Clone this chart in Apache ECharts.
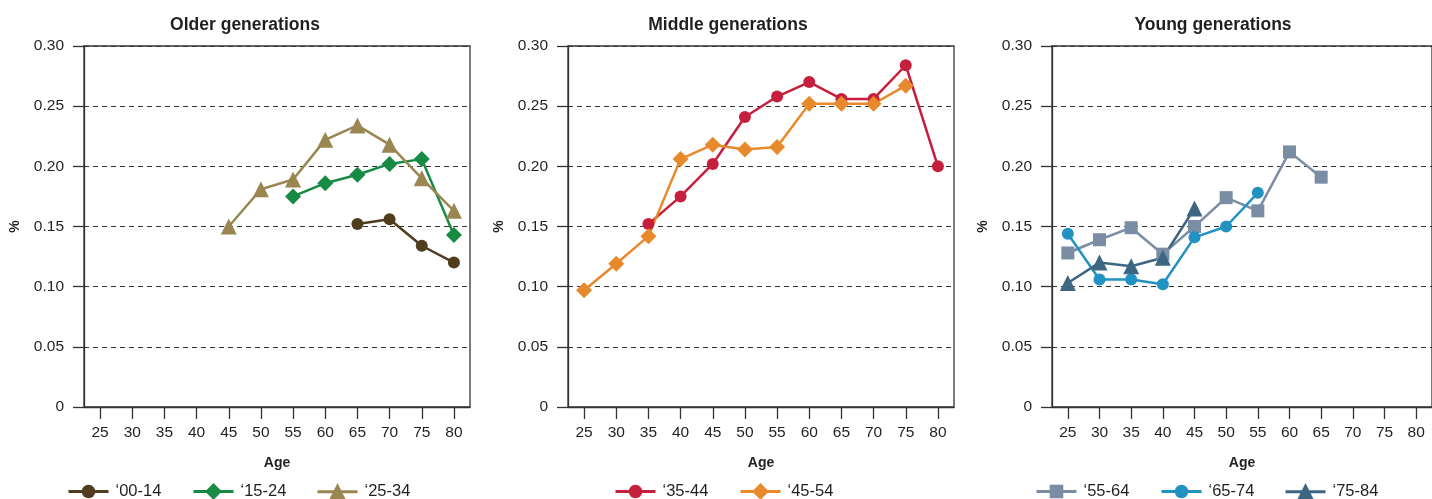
<!DOCTYPE html>
<html>
<head>
<meta charset="utf-8">
<script src="https://cdn.jsdelivr.net/npm/echarts@6/dist/echarts.min.js"></script>
<style>
html,body{margin:0;padding:0;background:#fff;}
#chart{width:1432px;height:499px;}
</style>
</head>
<body>
<div id="chart"></div>
<script>
const ages = ['25','30','35','40','45','50','55','60','65','70','75','80'];
const yTicks = [0, 0.05, 0.10, 0.15, 0.20, 0.25, 0.30];
const panelTitles = ['Older generations', 'Middle generations', 'Young generations'];

// Older generations
const g0014 = [null,null,null,null,null,null,null,null,0.152,0.156,0.134,0.120];
const g1524 = [null,null,null,null,null,null,0.175,0.186,0.193,0.202,0.206,0.143];
const g2534 = [null,null,null,null,0.150,0.181,0.189,0.222,0.234,0.218,0.190,0.163];
// Middle generations
const g3544 = [null,null,0.152,0.175,0.202,0.241,0.258,0.270,0.256,0.256,0.284,0.200];
const g4554 = [0.097,0.119,0.142,0.206,0.218,0.214,0.216,0.252,0.252,0.252,0.267,null];
// Young generations
const g5564 = [0.128,0.139,0.149,0.127,0.150,0.174,0.163,0.212,0.191,null,null,null];
const g6574 = [0.144,0.106,0.106,0.102,0.141,0.150,0.178,null,null,null,null,null];
const g7584 = [0.103,0.120,0.117,0.124,0.165,null,null,null,null,null,null,null];

const FONT = 'Liberation Sans';
const TXT = '#231f20';

const grids = [
  {left:84, top:46, width:386, height:361},
  {left:568, top:46, width:386, height:361},
  {left:1052, top:46, width:386, height:361}
];
const titleCenters = [240, 723, 1208];

const xAxes = grids.map((g,i)=>({
  type:'category', gridIndex:i, data:ages, boundaryGap:true,
  name:'Age', nameLocation:'middle', nameGap:49,
  nameTextStyle:{fontFamily:FONT, fontWeight:'bold', fontSize:14, color:TXT},
  axisLine:{show:true, lineStyle:{color:'#333', width:1.3}},
  axisTick:{show:true, alignWithLabel:true, length:12, lineStyle:{color:'#333', width:1.3}},
  axisLabel:{fontFamily:FONT, fontSize:15.5, color:TXT, margin:18, interval:0},
  splitLine:{show:false}
}));
const yAxes = grids.map((g,i)=>({
  type:'value', gridIndex:i, min:0, max:0.30, interval:0.05,
  name:'%', nameLocation:'middle', nameGap:62, nameRotate:90,
  nameTextStyle:{fontFamily:FONT, fontWeight:'bold', fontSize:14, color:TXT},
  axisLine:{show:true, lineStyle:{color:'#333', width:1.3}},
  axisTick:{show:true, length:11, lineStyle:{color:'#333', width:1.3}},
  axisLabel:{fontFamily:FONT, fontSize:15.5, color:TXT, margin:20,
    formatter:v=>{ const t = yTicks.find(x=>Math.abs(x-v)<1e-9); return t===0 ? '0' : (t!==undefined ? t.toFixed(2) : ''); }},
  splitLine:{show:true, lineStyle:{type:[5,4], color:'#333', width:1}}
}));

function mk(name, data, idx, color, symbol, size){
  return {
    name, type:'line', xAxisIndex:idx, yAxisIndex:idx, data,
    symbol, symbolSize:size,
    lineStyle:{color, width:2.5},
    itemStyle:{color},
    emphasis:{disabled:true},
    animation:false
  };
}
const series = [
  mk('\u201800-14', g0014, 0, '#4f3d1e', 'circle', 12),
  mk('\u201815-24', g1524, 0, '#178a44', 'diamond', 16),
  mk('\u201825-34', g2534, 0, '#9a8650', 'triangle', 16),
  mk('\u201835-44', g3544, 1, '#c61f3e', 'circle', 12),
  mk('\u201845-54', g4554, 1, '#e8892b', 'diamond', 16),
  mk('\u201855-64', g5564, 2, '#7a8da4', 'rect', 13),
  mk('\u201865-74', g6574, 2, '#2192c2', 'circle', 12),
  mk('\u201875-84', g7584, 2, '#3c6681', 'triangle', 16)
];

// legend layout: one legend component per entry
const legendLeft = [67, 192, 316, 614, 739, 1035, 1160, 1284];
const legendIconH = {circle:17, diamond:21, triangle:22, rect:17};
const legends = series.map((s,i)=>{
  const h = legendIconH[s.symbol];
  return {
    left:legendLeft[i], top:483, padding:0,
    itemWidth:40, itemHeight:h,
    lineStyle:{width:3},
    textStyle:{fontFamily:FONT, fontSize:16.5, color:TXT, padding:[0,0,0,2]},
    selectedMode:false,
    data:[s.name]
  };
});

const titles = panelTitles.map((t,i)=>({
  text:t, left:titleCenters[i], top:11, textAlign:'center',
  textStyle:{fontFamily:FONT, fontWeight:'bold', fontSize:17.5, color:TXT}
}));

const chart = echarts.init(document.getElementById('chart'), null, {renderer:'canvas'});
chart.setOption({
  backgroundColor:'#fff',
  animation:false,
  title:titles,
  grid:grids.map(g=>Object.assign({show:true, borderColor:'#333', borderWidth:1.3, backgroundColor:'transparent'}, g)),
  xAxis:xAxes,
  yAxis:yAxes,
  legend:legends,
  series
});
</script>
</body>
</html>
